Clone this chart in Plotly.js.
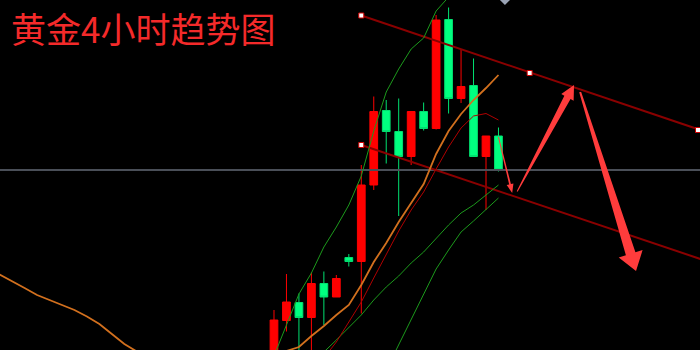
<!DOCTYPE html>
<html>
<head>
<meta charset="utf-8">
<script src="https://cdn.plot.ly/plotly-3.0.1.min.js"></script>
<style>
  html, body { margin: 0; padding: 0; background: #000; }
  #chart { width: 700px; height: 350px; }
</style>
</head>
<body>
<div id="chart"></div>
<script>
// 4-hour gold candles (index 0 = first candle in view), prices in USD/oz
const candleIdx = [0, 1, 2, 3, 4, 5, 6, 7, 8, 9, 10, 11, 12, 13, 14, 15, 16, 17, 18];
const openP  = [1877.6, 1885.9, 1889.5, 1886.5, 1893.3, 1890.6, 1898.5, 1897.7, 1913.0, 1927.9, 1923.7, 1918.7, 1927.7, 1924.3, 1946.1, 1930.3, 1932.9, 1918.7, 1922.8];
const highP  = [1888.0, 1895.2, 1891.3, 1895.5, 1895.7, 1895.0, 1899.2, 1917.0, 1930.7, 1930.0, 1930.3, 1927.7, 1929.5, 1947.0, 1948.5, 1940.0, 1938.3, 1922.8, 1924.5];
const lowP   = [1876.0, 1883.7, 1878.0, 1879.0, 1885.0, 1890.6, 1896.7, 1887.3, 1912.0, 1917.3, 1906.8, 1917.0, 1923.9, 1924.1, 1927.3, 1929.4, 1918.7, 1908.0, 1915.7];
const closeP = [1886.0, 1889.6, 1886.5, 1893.3, 1890.6, 1894.3, 1897.7, 1913.0, 1927.7, 1923.7, 1918.7, 1927.7, 1924.3, 1946.0, 1930.3, 1932.7, 1918.7, 1922.8, 1916.0];

// Slow moving average (orange), from earlier history through the last candle
const maSlowIdx = [-22, -21, -20, -19, -18, -17, -16, -15, -14, -13, -12, -11, -10, -9, -8, -7, -6, -5, -4, -3, -2, -1, 0, 1, 2, 3, 4, 5, 6, 7, 8, 9, 10, 11, 12, 13, 14, 15, 16, 17, 18];
const maSlow = [1895.1, 1893.8, 1892.4, 1891.0, 1890.0, 1889.1, 1888.0, 1886.7, 1885.2, 1883.2, 1881.2, 1879.7, 1878.8, 1878.0, 1877.4, 1876.9, 1876.6, 1876.5, 1876.6, 1876.9, 1877.4, 1878.2, 1879.0, 1879.9, 1880.6, 1882.8, 1884.8, 1887.0, 1889.0, 1893.0, 1897.6, 1901.4, 1905.6, 1909.4, 1913.2, 1919.2, 1923.8, 1927.2, 1930.0, 1932.4, 1935.0];

// Fast moving average (dark red)
const maFastIdx = [0, 1, 2, 3, 4, 5, 6, 7, 8, 9, 10, 11, 12, 13, 14, 15, 16, 17, 18];
const maFast = [1872.0, 1873.5, 1875.0, 1876.6, 1878.4, 1881.6, 1885.6, 1889.6, 1894.4, 1899.2, 1903.8, 1908.0, 1911.6, 1916.2, 1920.6, 1924.4, 1926.8, 1927.3, 1926.0];

// Envelope lines (green)
const bandUpperIdx = [0, 1, 2, 3, 4, 5, 6, 7, 8, 9, 10, 11, 12, 13, 14, 15, 16, 17, 18];
const bandUpper = [1878.8, 1884.9, 1891.2, 1895.4, 1900.6, 1904.6, 1909.0, 1914.8, 1923.8, 1931.6, 1936.2, 1940.2, 1942.4, 1947.8, 1950.6, 1954.4, 1957.0, 1959.0, 1960.4];
const bandMidIdx = [3, 4, 5, 6, 7, 8, 9, 10, 11, 12, 13, 14, 15, 16, 17, 18];
const bandMid = [1877.6, 1879.6, 1882.0, 1884.4, 1887.0, 1890.0, 1892.6, 1894.8, 1897.4, 1899.6, 1902.4, 1905.0, 1907.4, 1909.0, 1911.0, 1913.0];
const bandLowerIdx = [9, 10, 11, 12, 13, 14, 15, 16, 17, 18];
const bandLower = [1876.0, 1881.0, 1886.0, 1891.2, 1896.2, 1900.0, 1903.6, 1905.8, 1908.2, 1910.4];

// Descending channel (anchor points) and reference level
const channelIdx = [7, 34.2];
const channelTop = [1946.9, 1924.0];
const channelBottom = [1921.0, 1898.2];
const anchorIdx = [7, 20.5, 34.0, 7];
const anchorP = [1946.9, 1935.4, 1924.0, 1921.0];
const levelP = 1916.0;

// Projected path: pull-back, rebound to the channel top, then drop
const moveFromIdx = [18.0, 19.5, 24.55];
const moveFromP = [1922.6, 1911.7, 1931.6];
const moveToIdx = [19.1, 24.06, 29.03];
const moveToP = [1911.4, 1933.0, 1895.8];
const moveTailW = [1, 1, 2];
const moveNeckW = [1.8, 7, 10];
const moveHeadW = [7, 14, 25];
const moveHeadL = [9, 14, 18];

const chartTitle = '黄金4小时趋势图';

const W = 700, H = 350;
const xRange = [-21.97, 34.16];
const yRange = [1880, 1950];

const toPx = (i, p) => [
  (i - xRange[0]) / (xRange[1] - xRange[0]) * W,
  (yRange[1] - p) / (yRange[1] - yRange[0]) * H
];
const toData = (x, y) => [
  xRange[0] + x / W * (xRange[1] - xRange[0]),
  yRange[1] - y / H * (yRange[1] - yRange[0])
];

// Tapered arrow outline, built in screen space and mapped back to data units
function arrowPath(k) {
  const [sx, sy] = toPx(moveFromIdx[k], moveFromP[k]);
  const [tx, ty] = toPx(moveToIdx[k], moveToP[k]);
  const dx = tx - sx, dy = ty - sy, L = Math.hypot(dx, dy);
  const ux = dx / L, uy = dy / L, nx = -uy, ny = ux;
  const bx = tx - ux * moveHeadL[k], by = ty - uy * moveHeadL[k];
  const pts = [
    [sx + nx * moveTailW[k] / 2, sy + ny * moveTailW[k] / 2],
    [bx + nx * moveNeckW[k] / 2, by + ny * moveNeckW[k] / 2],
    [bx + nx * moveHeadW[k] / 2, by + ny * moveHeadW[k] / 2],
    [tx, ty],
    [bx - nx * moveHeadW[k] / 2, by - ny * moveHeadW[k] / 2],
    [bx - nx * moveNeckW[k] / 2, by - ny * moveNeckW[k] / 2],
    [sx - nx * moveTailW[k] / 2, sy - ny * moveTailW[k] / 2]
  ].map(p => toData(p[0], p[1]));
  return 'M' + pts.map(p => p[0] + ',' + p[1]).join(' L') + ' Z';
}

const traces = [
  { type: 'scatter', mode: 'lines', x: [xRange[0], xRange[1]], y: [levelP, levelP],
    line: { color: '#4a4f58', width: 2.2 }, hoverinfo: 'skip' },
  { type: 'scatter', mode: 'lines', x: channelIdx, y: channelTop,
    line: { color: '#8a0000', width: 2 }, hoverinfo: 'skip' },
  { type: 'scatter', mode: 'lines', x: channelIdx, y: channelBottom,
    line: { color: '#8a0000', width: 2 }, hoverinfo: 'skip' },
  { type: 'candlestick', x: candleIdx, open: openP, high: highP, low: lowP, close: closeP,
    increasing: { line: { color: '#ff0000', width: 1 }, fillcolor: '#ff0000' },
    decreasing: { line: { color: '#00e070', width: 1 }, fillcolor: '#00ff80' },
    whiskerwidth: 0, hoverinfo: 'skip' },
  { type: 'scatter', mode: 'lines', x: bandUpperIdx, y: bandUpper,
    line: { color: '#1c9a1c', width: 1 }, hoverinfo: 'skip' },
  { type: 'scatter', mode: 'lines', x: bandMidIdx, y: bandMid,
    line: { color: '#1c9a1c', width: 1 }, hoverinfo: 'skip' },
  { type: 'scatter', mode: 'lines', x: bandLowerIdx, y: bandLower,
    line: { color: '#1c9a1c', width: 1 }, hoverinfo: 'skip' },
  { type: 'scatter', mode: 'lines', x: maSlowIdx, y: maSlow,
    line: { color: '#d2701e', width: 1.8 }, hoverinfo: 'skip' },
  { type: 'scatter', mode: 'lines', x: maFastIdx, y: maFast,
    line: { color: '#b00000', width: 1 }, hoverinfo: 'skip' },
  { type: 'scatter', mode: 'markers', x: anchorIdx, y: anchorP,
    marker: { symbol: 'square', size: 5, color: '#ffffff', line: { color: '#d00000', width: 1 } },
    hoverinfo: 'skip' },
  { type: 'scatter', mode: 'markers', x: [18.52], y: [1950.3],
    marker: { symbol: 'diamond', size: 10, color: '#9aa3b4' }, hoverinfo: 'skip' }
];

const layout = {
  width: W, height: H,
  margin: { l: 0, r: 0, t: 0, b: 0 },
  paper_bgcolor: '#000000', plot_bgcolor: '#000000',
  showlegend: false,
  boxgap: 0.38,
  boxgroupgap: 0,
  xaxis: { range: xRange, visible: false, showgrid: false, zeroline: false,
           rangeslider: { visible: false }, fixedrange: true },
  yaxis: { range: yRange, visible: false, showgrid: false, zeroline: false, fixedrange: true },
  shapes: [0, 1, 2].map(k => ({
    type: 'path', xref: 'x', yref: 'y', path: arrowPath(k),
    fillcolor: '#ff3c3c', line: { width: 0 }, layer: 'above'
  })),
  annotations: [{
    text: chartTitle, xref: 'paper', yref: 'paper', x: 9 / W, y: 1 - 0 / H,
    xanchor: 'left', yanchor: 'top', showarrow: false,
    font: { family: 'Noto Sans CJK SC', size: 35, color: '#f42a2a' }
  }]
};

Plotly.newPlot('chart', traces, layout, { displayModeBar: false, staticPlot: true });
</script>
</body>
</html>
